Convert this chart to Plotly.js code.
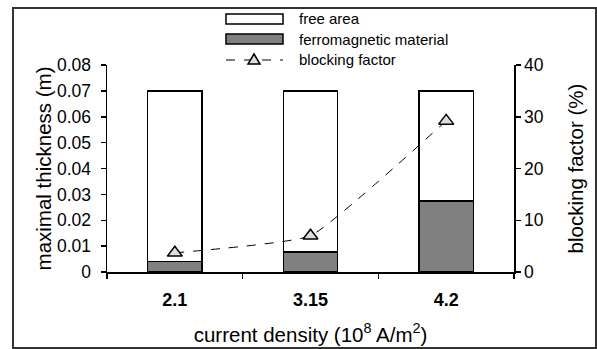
<!DOCTYPE html>
<html><head><meta charset="utf-8">
<script src="https://cdn.plot.ly/plotly-3.0.1.min.js"></script>
<style>html,body{margin:0;padding:0;background:#fff}#chart{width:597px;height:349px}</style>
</head><body><div id="chart"></div>
<script>
const categories = ['2.1', '3.15', '4.2'];
const ferromagnetic = [0.0041, 0.0077, 0.0275];
const freeArea = [0.0659, 0.0623, 0.0425];
const blockingFactor = [3.7, 7.0, 29.2];
const legendLabels = ['free area', 'ferromagnetic material', 'blocking factor'];

const W = 597, H = 349, L = 107, R = 83, T = 65, B = 77;
const pw = W - L - R, ph = H - T - B;
const px = x => (x - L) / pw;
const py = y => (H - B - y) / ph;
const FONT = 'Liberation Sans, Arial, sans-serif';

const traces = [
  {type: 'bar', x: categories, y: ferromagnetic, name: legendLabels[1], width: 0.4,
   marker: {color: '#808080', line: {color: '#000', width: 1.5}}, showlegend: false},
  {type: 'bar', x: categories, y: freeArea, name: legendLabels[0], width: 0.4,
   marker: {color: '#ffffff', line: {color: '#000', width: 1.5}}, showlegend: false},
  {type: 'scatter', mode: 'lines+markers', x: categories, y: blockingFactor, yaxis: 'y2',
   name: legendLabels[2], line: {color: '#000', width: 1, dash: 'dash', shape: 'spline', smoothing: 0.35},
   marker: {symbol: 'triangle-up', size: 13, color: '#dddddd', line: {color: '#000', width: 1.5}},
   showlegend: false}
];

// custom legend
const lx0 = 226, lx1 = 283, ltx = 297;
const rows = [19, 39, 60];
const shapes = [
  {type: 'rect', xref: 'paper', yref: 'paper', x0: px(lx0), x1: px(lx1), y0: py(rows[0] + 5), y1: py(rows[0] - 5),
   fillcolor: '#fff', line: {color: '#000', width: 1.5}},
  {type: 'rect', xref: 'paper', yref: 'paper', x0: px(lx0), x1: px(lx1), y0: py(rows[1] + 5), y1: py(rows[1] - 5),
   fillcolor: '#808080', line: {color: '#000', width: 1.5}},
  {type: 'line', xref: 'paper', yref: 'paper', x0: px(lx0), x1: px(lx1), y0: py(rows[2]), y1: py(rows[2]),
   line: {color: '#000', width: 1, dash: 'dash'}},
  {type: 'path', xref: 'paper', yref: 'paper',
   path: `M ${px(254)} ${py(rows[2] - 6)} L ${px(260)} ${py(rows[2] + 4)} L ${px(248)} ${py(rows[2] + 4)} Z`,
   fillcolor: '#dddddd', line: {color: '#000', width: 1.5}},
  // outer frame
  {type: 'rect', xref: 'paper', yref: 'paper', x0: px(13), x1: px(596), y0: py(348), y1: py(8),
   fillcolor: 'rgba(0,0,0,0)', line: {color: '#333', width: 2}}
];
const annotations = legendLabels.map((t, i) => ({
  xref: 'paper', yref: 'paper', x: px(ltx), y: py(rows[i]), xanchor: 'left', yanchor: 'middle',
  text: t, showarrow: false, font: {family: FONT, size: 15, color: '#000'}
}));

const layout = {
  width: W, height: H,
  margin: {l: L, r: R, t: T, b: B},
  paper_bgcolor: '#fff', plot_bgcolor: '#fff',
  barmode: 'stack', showlegend: false,
  font: {family: FONT, size: 17.5, color: '#000'},
  xaxis: {
    type: 'category', showline: true, linecolor: '#000', linewidth: 1.5,
    ticks: 'outside', tickson: 'boundaries', ticklen: 5, tickcolor: '#000', tickwidth: 1.5,
    showgrid: false, zeroline: false, ticklabelstandoff: 11,
    tickfont: {family: FONT, size: 18, color: '#000', weight: 'bold'},
    title: {text: 'current density (10<sup>8</sup> A/m<sup>2</sup>)', font: {family: FONT, size: 20.5}, standoff: 18}
  },
  yaxis: {
    range: [0, 0.08],
    showline: true, linecolor: '#000', linewidth: 1.5,
    ticks: 'outside', ticklen: 5, tickcolor: '#000', tickwidth: 1.5,
    showgrid: false, zeroline: false, ticklabelstandoff: 6,
    tickfont: {family: FONT, size: 17.5},
    title: {text: 'maximal thickness (m)', font: {family: FONT, size: 20.5}, standoff: 0}
  },
  yaxis2: {
    overlaying: 'y', side: 'right', range: [0, 40], dtick: 10,
    showline: true, linecolor: '#000', linewidth: 1.5,
    ticks: 'outside', ticklen: 5, tickcolor: '#000', tickwidth: 1.5,
    showgrid: false, zeroline: false, ticklabelstandoff: 0,
    tickfont: {family: FONT, size: 17.5},
    title: {text: 'blocking factor (%)', font: {family: FONT, size: 20.5}, standoff: 26}
  },
  shapes: shapes,
  annotations: annotations
};
layout.yaxis.tickvals = [0, 0.01, 0.02, 0.03, 0.04, 0.05, 0.06, 0.07, 0.08];
layout.yaxis.ticktext = ['0', '0.01', '0.02', '0.03', '0.04', '0.05', '0.06', '0.07', '0.08'];

Plotly.newPlot('chart', traces, layout, {displayModeBar: false, staticPlot: true});
</script></body></html>
